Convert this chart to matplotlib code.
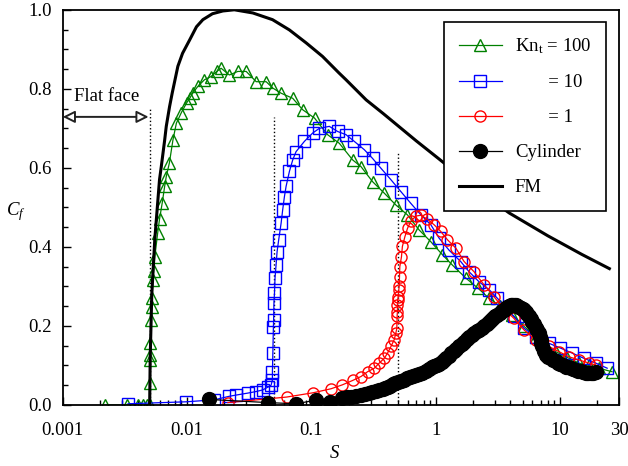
import matplotlib
matplotlib.use('Agg')
import matplotlib.pyplot as plt
from matplotlib.ticker import FixedLocator, LogLocator, MultipleLocator, NullFormatter

plt.rcParams['font.family'] = ['Liberation Serif', 'DejaVu Serif']
plt.rcParams['mathtext.fontset'] = 'custom'
plt.rcParams['mathtext.rm'] = 'Liberation Serif'
plt.rcParams['mathtext.it'] = 'Liberation Serif:italic'
plt.rcParams['font.size'] = 13.5

# Kn_t = 100 (green triangles)
s_kn100 = [0.00218, 0.00327, 0.0040, 0.0044, 0.0048, 0.0050, 0.00505, 0.00505, 0.00506, 0.00506,
           0.00512, 0.00519, 0.00524, 0.00530, 0.00538, 0.00550, 0.00580, 0.00600, 0.00630, 0.00660,
           0.00680, 0.00720, 0.00770, 0.00820, 0.00900, 0.00990, 0.0105, 0.0111, 0.0122, 0.0138,
           0.0156, 0.0175, 0.0188, 0.0219, 0.0256, 0.0299, 0.0360, 0.0433, 0.0489, 0.0570,
           0.0708, 0.0852, 0.106, 0.135, 0.168, 0.215, 0.251, 0.311, 0.386, 0.479,
           0.593, 0.736, 0.915, 1.135, 1.364, 1.75, 2.2, 2.69, 3.3, 4.14,
           5.1, 6.37, 7.6, 9.22, 11.5, 14.2, 17.0, 20.6, 26.3]
cf_kn100 = [0.0, 0.0, 0.0, 0.0, 0.0, 0.0, 0.055, 0.114, 0.127, 0.156,
            0.215, 0.249, 0.270, 0.316, 0.338, 0.375, 0.435, 0.470, 0.510, 0.553,
            0.578, 0.612, 0.671, 0.713, 0.740, 0.764, 0.776, 0.789, 0.806, 0.823,
            0.831, 0.845, 0.852, 0.835, 0.844, 0.844, 0.818, 0.818, 0.802, 0.789,
            0.776, 0.747, 0.726, 0.684, 0.662, 0.620, 0.603, 0.565, 0.536, 0.506,
            0.481, 0.443, 0.413, 0.380, 0.354, 0.321, 0.295, 0.270, 0.250, 0.228,
            0.200, 0.173, 0.152, 0.135, 0.120, 0.106, 0.100, 0.093, 0.084]

# Kn_t = 10 (blue squares)
s_kn10 = [0.00335, 0.00985, 0.0166, 0.0219, 0.0248, 0.0308, 0.036, 0.0406, 0.0446, 0.0474,
          0.0486, 0.0486, 0.0490, 0.0495, 0.0497, 0.0500, 0.0505, 0.0510, 0.0520, 0.0530,
          0.0546, 0.0571, 0.0588, 0.0607, 0.0626, 0.0666, 0.0708, 0.0753, 0.0879, 0.1024,
          0.116, 0.1395, 0.1627, 0.19, 0.2215, 0.2666, 0.3106, 0.363, 0.4367, 0.525,
          0.632, 0.761, 0.915, 1.067, 1.28, 1.59, 1.86, 2.23, 2.69, 3.14,
          4.27, 5.14, 6.38, 8.16, 10.1, 12.6, 15.6, 19.4, 24.0]
cf_kn10 = [0.003, 0.008, 0.013, 0.022, 0.025, 0.030, 0.034, 0.038, 0.045, 0.050,
           0.063, 0.084, 0.131, 0.198, 0.215, 0.257, 0.283, 0.321, 0.354, 0.388,
           0.418, 0.460, 0.494, 0.527, 0.553, 0.591, 0.620, 0.641, 0.667, 0.688,
           0.700, 0.705, 0.692, 0.684, 0.667, 0.646, 0.624, 0.599, 0.570, 0.540,
           0.510, 0.481, 0.456, 0.422, 0.392, 0.363, 0.337, 0.312, 0.292, 0.270,
           0.224, 0.194, 0.173, 0.156, 0.144, 0.131, 0.118, 0.106, 0.093]

# Kn_t = 1 (red circles)
s_kn1 = [0.0213, 0.0633, 0.104, 0.144, 0.178, 0.215, 0.251, 0.283, 0.321, 0.352,
         0.386, 0.41, 0.437, 0.464, 0.478, 0.487, 0.490, 0.492, 0.493, 0.495,
         0.500, 0.505, 0.509, 0.512, 0.515, 0.531, 0.540, 0.566, 0.594, 0.632,
         0.693, 0.760, 0.859, 0.972, 1.10, 1.245, 1.453, 1.694, 2.04, 2.45,
         2.95, 3.5, 4.27, 5.14, 6.38, 8.16, 9.81, 11.8, 14.2, 17.1, 19.4]
cf_kn1 = [0.006, 0.020, 0.031, 0.041, 0.051, 0.062, 0.072, 0.084, 0.093, 0.106,
          0.118, 0.131, 0.148, 0.165, 0.181, 0.194, 0.224, 0.236, 0.253, 0.266,
          0.274, 0.291, 0.300, 0.325, 0.350, 0.375, 0.401, 0.426, 0.447, 0.465,
          0.478, 0.480, 0.470, 0.456, 0.439, 0.418, 0.397, 0.363, 0.337, 0.304,
          0.274, 0.245, 0.219, 0.190, 0.165, 0.148, 0.135, 0.122, 0.114, 0.106, 0.101]

# cylinder (black dots)
s_cyl = [0.0149, 0.0446, 0.0753, 0.108, 0.141, 0.178, 0.195, 0.21, 0.23, 0.25,
         0.27, 0.29, 0.31, 0.33, 0.35, 0.374, 0.39, 0.41, 0.43, 0.45,
         0.475, 0.5, 0.53, 0.558, 0.59, 0.62, 0.655, 0.693, 0.735, 0.78,
         0.83, 0.887, 0.93, 0.97, 1.02, 1.067, 1.12, 1.17, 1.22, 1.28,
         1.34, 1.4, 1.47, 1.545, 1.62, 1.7, 1.78, 1.86, 1.95, 2.05,
         2.14, 2.23, 2.34, 2.45, 2.57, 2.69, 2.8, 2.9, 3.02, 3.14,
         3.27, 3.4, 3.53, 3.67, 3.78, 3.9, 4.02, 4.14, 4.27, 4.4,
         4.54, 4.69, 4.84, 5.0, 5.15, 5.3, 5.47, 5.65, 5.82, 6.0,
         6.2, 6.4, 6.6, 6.78, 6.9, 7.0, 7.1, 7.21, 7.44, 7.67,
         8.0, 8.4, 8.8, 9.23, 9.65, 10.1, 10.6, 11.1, 11.6, 12.2,
         12.8, 13.4, 14.0, 14.7, 15.4, 16.1, 16.9, 17.7, 18.5, 19.4]
cf_cyl = [0.014, 0.006, 0.003, 0.012, 0.008, 0.017, 0.019, 0.021, 0.023, 0.025,
          0.028, 0.031, 0.033, 0.036, 0.038, 0.040, 0.043, 0.046, 0.049, 0.052,
          0.055, 0.058, 0.060, 0.063, 0.067, 0.070, 0.073, 0.076, 0.079, 0.082,
          0.087, 0.092, 0.095, 0.098, 0.101, 0.104, 0.109, 0.114, 0.119, 0.125,
          0.131, 0.137, 0.142, 0.148, 0.154, 0.160, 0.167, 0.173, 0.178, 0.182,
          0.186, 0.190, 0.195, 0.200, 0.205, 0.211, 0.216, 0.220, 0.224, 0.228,
          0.233, 0.237, 0.241, 0.245, 0.248, 0.250, 0.252, 0.253, 0.253, 0.252,
          0.251, 0.249, 0.246, 0.243, 0.240, 0.236, 0.231, 0.225, 0.218, 0.211,
          0.204, 0.196, 0.189, 0.181, 0.173, 0.165, 0.157, 0.148, 0.137, 0.127,
          0.122, 0.118, 0.114, 0.110, 0.106, 0.103, 0.100, 0.097, 0.095, 0.093,
          0.091, 0.089, 0.087, 0.085, 0.083, 0.081, 0.081, 0.081, 0.082, 0.084]

# free molecular curve
s_fm = [0.005, 0.00505, 0.0052, 0.0055, 0.006, 0.0062, 0.0066, 0.0068, 0.00723, 0.0076,
        0.00843, 0.0092, 0.0105, 0.0119, 0.0134, 0.016, 0.0194, 0.024, 0.0338, 0.0487,
        0.0666, 0.091, 0.123, 0.167, 0.19, 0.276, 0.38, 0.5, 0.7, 1.05,
        2.0, 3.9, 8.0, 15.0, 25.0]
cf_fm = [0.0, 0.12, 0.28, 0.42, 0.57, 0.603, 0.67, 0.705, 0.755, 0.79,
         0.857, 0.89, 0.924, 0.957, 0.975, 0.990, 0.997, 1.0, 0.992, 0.975,
         0.949, 0.916, 0.882, 0.84, 0.823, 0.772, 0.737, 0.706, 0.668, 0.624,
         0.553, 0.486, 0.428, 0.381, 0.345]

# dotted marker lines (S, height)
guide_s = [0.005, 0.05, 0.5]
guide_top = [0.752, 0.729, 0.64]

fig, ax = plt.subplots(figsize=(6.28, 4.66), dpi=100)
fig.subplots_adjust(left=0.100, right=0.986, bottom=0.131, top=0.979)

for s, top in zip(guide_s, guide_top):
    ax.plot([s, s], [0, top], color='black', linestyle=':', linewidth=1.0, zorder=1)

ax.plot(s_kn100, cf_kn100, color='green', linewidth=0.9, marker='^', markersize=8,
        markerfacecolor='none', markeredgewidth=1.0, label=r'Kn$_\mathregular{t}$ = 100')
ax.plot(s_kn10, cf_kn10, color='blue', linewidth=0.9, marker='s', markersize=8,
        markerfacecolor='none', markeredgewidth=1.0, label='       = 10')
ax.plot(s_kn1, cf_kn1, color='red', linewidth=0.9, marker='o', markersize=8,
        markerfacecolor='none', markeredgewidth=1.0, label='       = 1')
ax.plot(s_cyl, cf_cyl, color='black', linewidth=0.9, marker='o', markersize=10,
        label='Cylinder')
ax.plot(s_fm, cf_fm, color='black', linewidth=2.2, label='FM')

ax.annotate('', xy=(0.001, 0.729), xytext=(0.0049, 0.729),
            arrowprops=dict(arrowstyle='<|-|>', edgecolor='#222222', facecolor='white',
                            lw=1.4, mutation_scale=18, shrinkA=0, shrinkB=0))
ax.text(0.00225, 0.78, 'Flat face', ha='center', va='center')

ax.set_xscale('log')
ax.set_xlim(0.001, 30)
ax.set_ylim(0, 1.0)
ax.xaxis.set_major_locator(FixedLocator([0.001, 0.01, 0.1, 1, 10, 30]))
ax.set_xticklabels(['0.001', '0.01', '0.1', '1', '10', '30'])
ax.xaxis.set_minor_locator(LogLocator(base=10, subs=range(2, 10), numticks=20))
ax.xaxis.set_minor_formatter(NullFormatter())
ax.set_yticks([0, 0.2, 0.4, 0.6, 0.8, 1.0])
ax.set_yticklabels(['0.0', '0.2', '0.4', '0.6', '0.8', '1.0'])
ax.yaxis.set_minor_locator(MultipleLocator(0.05))

ax.tick_params(which='both', direction='in', top=False, right=False, width=1.0)
ax.tick_params(which='major', length=6)
ax.tick_params(which='minor', length=3.5)
ax.tick_params(axis='y', which='major', pad=8)
ax.tick_params(axis='x', which='major', pad=12)
for sp in ax.spines.values():
    sp.set_linewidth(1.3)

ax.set_xlabel('$S$', va='top')
ax.set_ylabel('$C_f$', rotation=0, ha='center', va='center')
ax.xaxis.set_label_coords(0.489, -0.101)
ax.yaxis.set_label_coords(-0.085, 0.489)

leg = ax.legend(loc='upper right', bbox_to_anchor=(0.977, 0.970), borderaxespad=0,
                fancybox=False, framealpha=1, edgecolor='black', handlelength=2.3,
                handletextpad=0.7, labelspacing=0.95, borderpad=0.8)
leg.get_frame().set_linewidth(1.2)

fig.savefig('out.png', dpi=100)
